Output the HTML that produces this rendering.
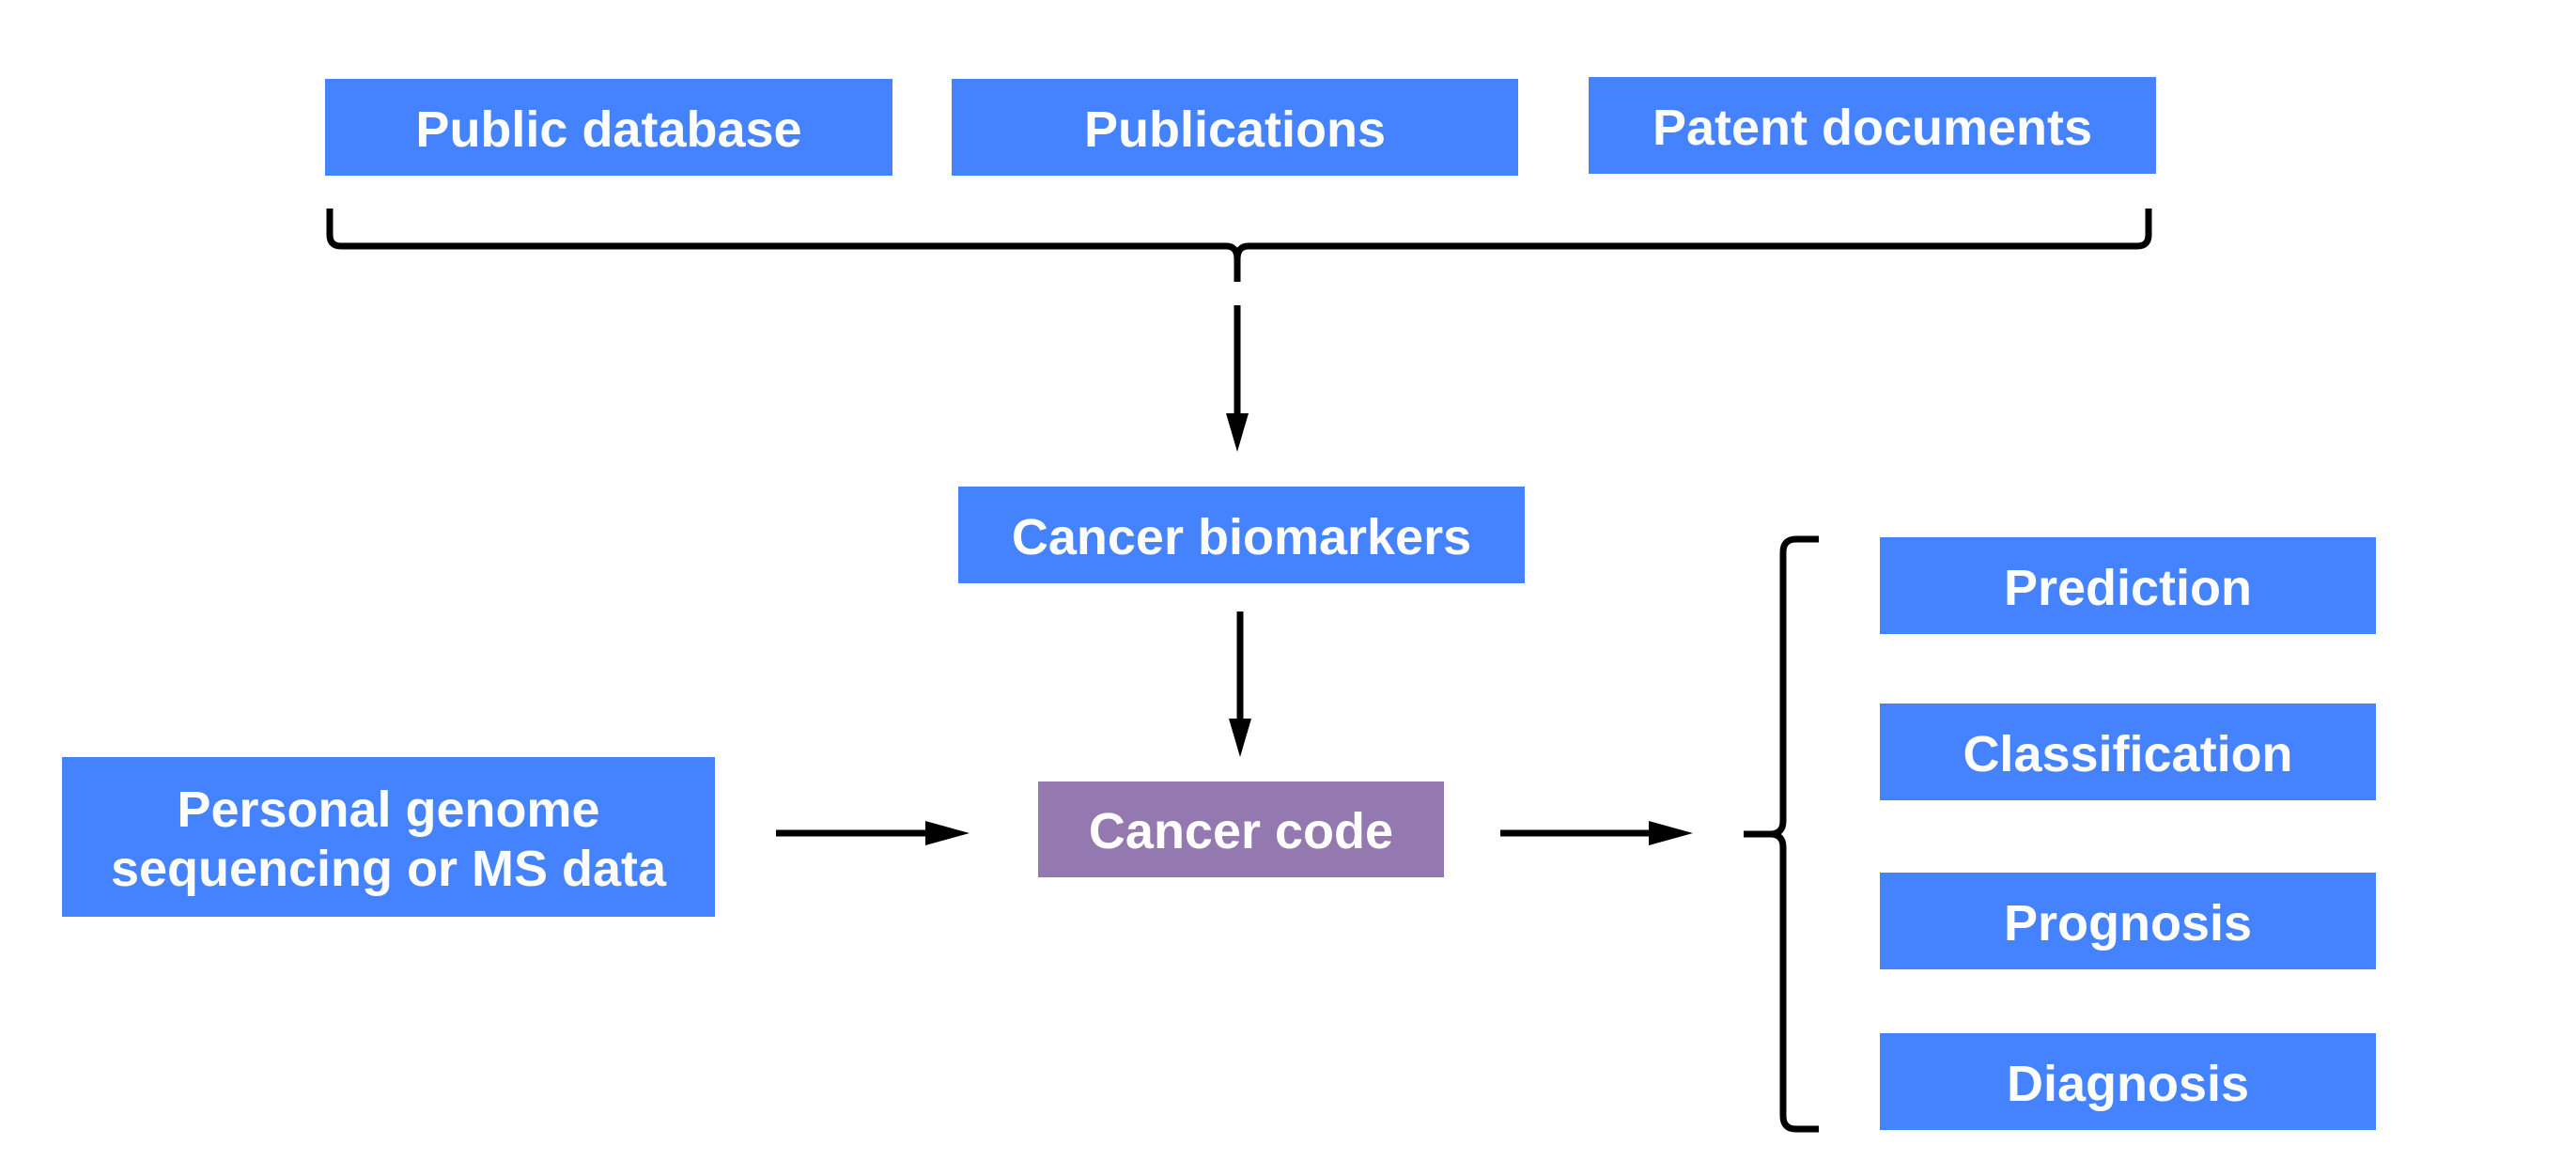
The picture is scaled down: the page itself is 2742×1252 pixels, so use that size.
<!DOCTYPE html>
<html><head><meta charset="utf-8"><style>
html,body{margin:0;padding:0;background:#fff;}
body{width:2742px;height:1252px;position:relative;overflow:hidden;font-family:"Liberation Sans",Arial,sans-serif;}
.b{position:absolute;background:#4582fe;color:#fff;font-weight:bold;font-size:54px;display:flex;align-items:center;justify-content:center;text-align:center;line-height:1.17;padding-top:6px;box-sizing:border-box;}
.p{background:#9379b0;}
</style></head><body>
<div class="b" style="left:346px;top:84px;width:604px;height:103px;">Public database</div>
<div class="b" style="left:1013px;top:84px;width:603px;height:103px;">Publications</div>
<div class="b" style="left:1691px;top:82px;width:604px;height:103px;">Patent documents</div>
<div class="b" style="left:1020px;top:518px;width:603px;height:103px;">Cancer biomarkers</div>
<div class="b p" style="left:1105px;top:832px;width:432px;height:102px;">Cancer code</div>
<div class="b" style="left:66px;top:806px;width:695px;height:170px;">Personal genome<br>sequencing or MS data</div>
<div class="b" style="left:2001px;top:572px;width:528px;height:103px;">Prediction</div>
<div class="b" style="left:2001px;top:749px;width:528px;height:103px;">Classification</div>
<div class="b" style="left:2001px;top:929px;width:528px;height:103px;">Prognosis</div>
<div class="b" style="left:2001px;top:1100px;width:528px;height:103px;">Diagnosis</div>
<svg width="2742" height="1252" style="position:absolute;left:0;top:0" fill="none" stroke="#000" stroke-width="7">
<path d="M351 222 V250 Q351 262 363 262 H1305 Q1317 262 1317 276 V300 M1317 276 Q1317 262 1329 262 H2275 Q2287 262 2287 250 V222"/>
<path d="M1936 574 H1912 Q1898 574 1898 588 V874 Q1898 888 1884 888 H1856 M1884 888 Q1898 888 1898 902 V1188 Q1898 1202 1912 1202 H1936"/>
<line x1="1317" y1="325" x2="1317" y2="445"/>
<line x1="1320" y1="651" x2="1320" y2="770"/>
<line x1="826" y1="887" x2="990" y2="887"/>
<line x1="1597" y1="887" x2="1760" y2="887"/>
<g fill="#000" stroke="none">
<polygon points="1305,440 1329,440 1317,481"/>
<polygon points="1308,765 1332,765 1320,806"/>
<polygon points="985,874 985,900 1032,887"/>
<polygon points="1755,874 1755,900 1802,887"/>
</g>
</svg>
</body></html>
